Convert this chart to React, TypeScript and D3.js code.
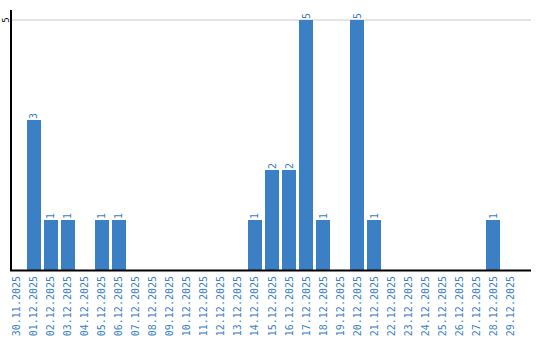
import React from "react";
import * as d3 from "d3";

const categories = [
  "30.11.2025","01.12.2025","02.12.2025","03.12.2025","04.12.2025","05.12.2025",
  "06.12.2025","07.12.2025","08.12.2025","09.12.2025","10.12.2025","11.12.2025",
  "12.12.2025","13.12.2025","14.12.2025","15.12.2025","16.12.2025","17.12.2025",
  "18.12.2025","19.12.2025","20.12.2025","21.12.2025","22.12.2025","23.12.2025",
  "24.12.2025","25.12.2025","26.12.2025","27.12.2025","28.12.2025","29.12.2025",
];
const values = [0,3,1,1,0,1,1,0,0,0,0,0,0,0,1,2,2,5,1,0,5,1,0,0,0,0,0,0,1,0];
const yTicks = [5];

const W = 540, H = 340;
const BLUE = "#3b7fc4";
const FONT = "'DejaVu Sans Mono', 'Liberation Mono', monospace";

export default function App() {
  const x = d3.scaleBand<string>()
    .domain(categories)
    .range([8.5, 518.5])
    .paddingInner(3 / 17)
    .paddingOuter(0.088);
  const y = d3.scaleLinear().domain([0, 5]).range([270, 20]);
  const axisLeft = 11;
  const axisRight = 531;

  return (
    <svg width={W} height={H} style={{ position: "absolute", left: 0, top: 0, background: "#fff" }}
      fontFamily={FONT}>
      {yTicks.map((t) => (
        <g key={t}>
          <line x1={axisLeft} x2={axisRight} y1={y(t)} y2={y(t)} stroke="#c8c8c8" strokeWidth={1} />
          <text transform={`translate(9,${y(t)}) rotate(-90)`} textAnchor="middle" fontSize={9} fill="#000">{t}</text>
        </g>
      ))}
      {categories.map((c, i) => values[i] > 0 ? (
        <g key={c}>
          <rect x={x(c)} y={y(values[i])} width={x.bandwidth()} height={y(0) - y(values[i])} fill={BLUE} />
          <text transform={`translate(${(x(c) as number) + x.bandwidth() / 2 + 3.5},${y(values[i]) - 1}) rotate(-90)`}
            fontSize={10} fill={BLUE}>{values[i]}</text>
        </g>
      ) : null)}
      <line x1={axisLeft} x2={axisLeft} y1={10} y2={270.5} stroke="#000" strokeWidth={2} />
      <line x1={axisLeft - 1} x2={axisRight} y1={270.5} y2={270.5} stroke="#000" strokeWidth={2} />
      {categories.map((c) => (
        <text key={c} transform={`translate(${(x(c) as number) + x.bandwidth() / 2 + 3.5},276) rotate(-90)`}
          textAnchor="end" fontSize={10} fill={BLUE}>{c}</text>
      ))}
    </svg>
  );
}
